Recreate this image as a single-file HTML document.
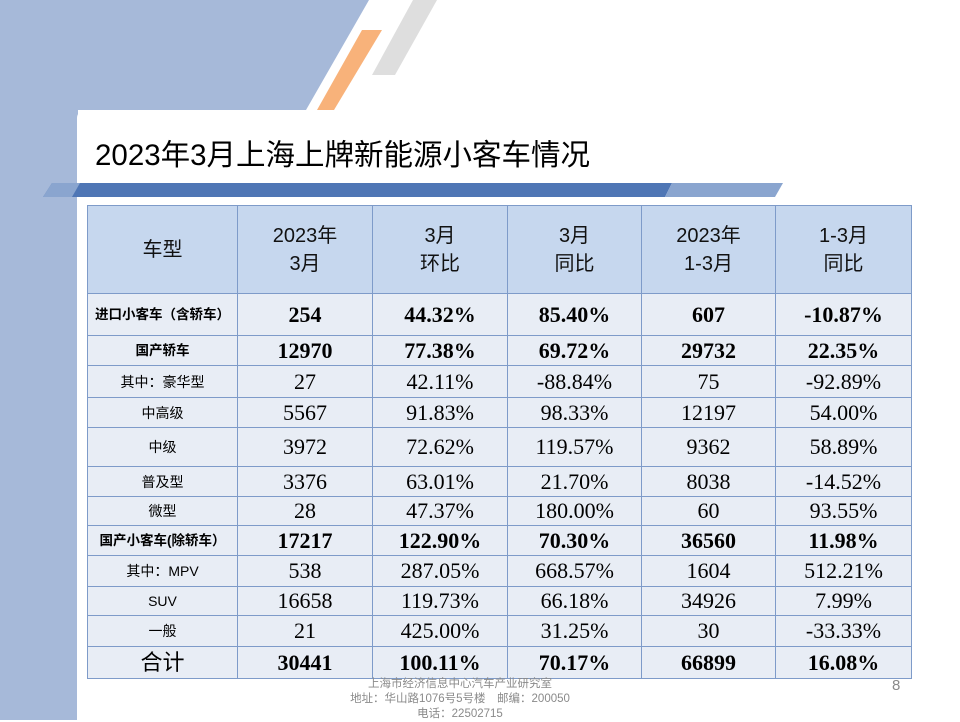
<!DOCTYPE html>
<html><head><meta charset="utf-8">
<style>
body{margin:0;width:960px;height:720px;overflow:hidden;background:#fff;position:relative;font-family:"Liberation Sans","Noto Sans CJK SC",sans-serif}
.abs{position:absolute}
table{position:absolute;left:87px;top:205px;border-collapse:collapse;table-layout:fixed}
td{border:1px solid #7e9bc9;text-align:center;padding:0;background:#e8edf5;font-family:"Liberation Serif","Noto Serif CJK SC",serif;font-size:22px;color:#000;line-height:1}
tr.h td{background:#c6d7ee;font-family:"Liberation Sans","Noto Sans CJK SC",sans-serif;font-size:20px;line-height:28px;color:#111}
td.l{font-family:"Liberation Sans","Noto Sans CJK SC",sans-serif;font-size:14px}
tr.b td{font-weight:bold}
tr.b td.l{font-size:13.5px}
</style></head><body>
<svg class="abs" style="left:0;top:0" width="960" height="720">
<polygon points="0,0 369,0 306,110 78,110 78,720 0,720" fill="#a6b9d9"/>
<polygon points="362,30 382,30 334,110 317,110" fill="#f8b27a"/>
<polygon points="413,0 437,0 395,75 372,75" fill="#dedede"/>
<rect x="77" y="110" width="883" height="610" fill="#fff" rx="8"/>
<rect x="77" y="140" width="10" height="580" fill="#fff"/>
<polygon points="52,183 672,183 665,197 43,197" fill="#4f76b5"/>
<polygon points="52,183 80,183 72,197 43,197" fill="#8aa5cf"/>
<polygon points="672,183 783,183 775,197 665,197" fill="#8aa5cf"/>
</svg>
<div class="abs" style="left:95px;top:132px;font-size:29.5px;color:#000">2023年3月上海上牌新能源小客车情况</div>
<table>
<colgroup><col style="width:150px"><col style="width:135px"><col style="width:135px"><col style="width:134px"><col style="width:134px"><col style="width:136px"></colgroup>
<tr class="h" style="height:88px"><td>车型</td><td>2023年<br>3月</td><td>3月<br>环比</td><td>3月<br>同比</td><td>2023年<br>1-3月</td><td>1-3月<br>同比</td></tr>
<tr class="b" style="height:42px"><td class="l">进口小客车（含轿车）</td><td>254</td><td>44.32%</td><td>85.40%</td><td>607</td><td>-10.87%</td></tr>
<tr class="b" style="height:30px"><td class="l">国产轿车</td><td>12970</td><td>77.38%</td><td>69.72%</td><td>29732</td><td>22.35%</td></tr>
<tr style="height:32px"><td class="l">其中：豪华型</td><td>27</td><td>42.11%</td><td>-88.84%</td><td>75</td><td>-92.89%</td></tr>
<tr style="height:30px"><td class="l">中高级</td><td>5567</td><td>91.83%</td><td>98.33%</td><td>12197</td><td>54.00%</td></tr>
<tr style="height:39px"><td class="l">中级</td><td>3972</td><td>72.62%</td><td>119.57%</td><td>9362</td><td>58.89%</td></tr>
<tr style="height:30px"><td class="l">普及型</td><td>3376</td><td>63.01%</td><td>21.70%</td><td>8038</td><td>-14.52%</td></tr>
<tr style="height:29px"><td class="l">微型</td><td>28</td><td>47.37%</td><td>180.00%</td><td>60</td><td>93.55%</td></tr>
<tr class="b" style="height:30px"><td class="l">国产小客车(除轿车）</td><td>17217</td><td>122.90%</td><td>70.30%</td><td>36560</td><td>11.98%</td></tr>
<tr style="height:31px"><td class="l">其中：MPV</td><td>538</td><td>287.05%</td><td>668.57%</td><td>1604</td><td>512.21%</td></tr>
<tr style="height:29px"><td class="l">SUV</td><td>16658</td><td>119.73%</td><td>66.18%</td><td>34926</td><td>7.99%</td></tr>
<tr style="height:31px"><td class="l">一般</td><td>21</td><td>425.00%</td><td>31.25%</td><td>30</td><td>-33.33%</td></tr>
<tr class="b" style="height:32px"><td class="l" style="font-size:22px;font-weight:normal">合计</td><td>30441</td><td>100.11%</td><td>70.17%</td><td>66899</td><td>16.08%</td></tr>
</table>
<div class="abs" style="left:330px;top:677px;width:260px;text-align:center;font-size:11.5px;line-height:15px;color:#8a8a8a">上海市经济信息中心汽车产业研究室<br>地址：华山路1076号5号楼　邮编：200050<br>电话：22502715</div>
<div class="abs" style="left:892px;top:677px;font-size:15px;color:#8a8a8a">8</div>
</body></html>
